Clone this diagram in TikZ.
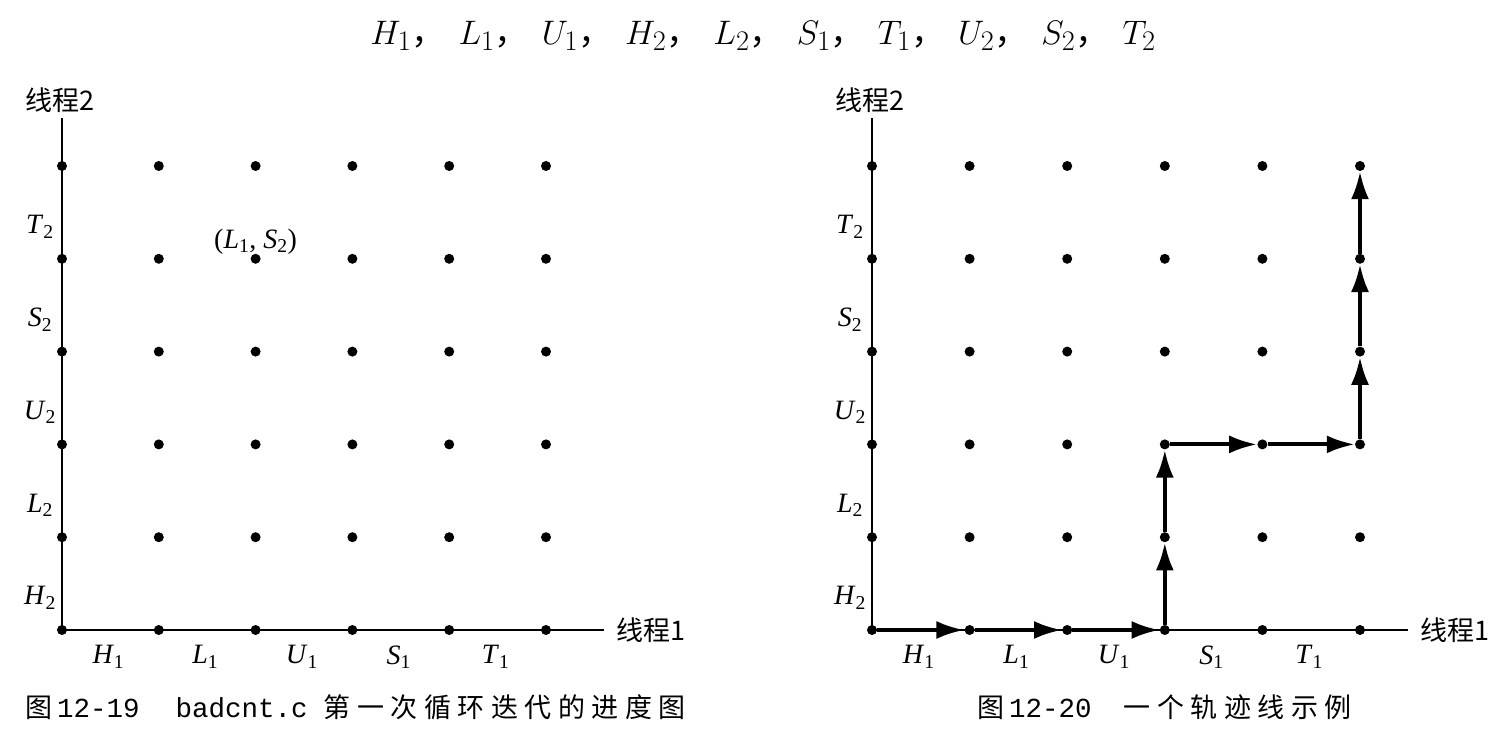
\documentclass[tikz,border=0pt]{standalone}
\usepackage{fontspec}
\setmainfont{Liberation Serif}
\setmonofont{Liberation Mono}
\newfontfamily\cjk{Noto Sans CJK SC}
\newfontfamily\cjkcap[LetterSpace=24]{Noto Sans CJK SC}
\usetikzlibrary{arrows.meta, positioning}

\newcommand{\sym}[2]{\textit{#1}\textsubscript{#2}}
\newcommand{\tcomma}{{\cjk ，}\hspace{9.5pt}}

\tikzset{
  dot/.style={circle, fill, inner sep=0pt, minimum size=10pt},
  axis/.style={line width=2.4pt},
  track/.style={line width=4pt, -{Latex[length=28pt,width=18pt]}},
  lab/.style={font=\fontsize{28}{30}\selectfont},
  cjklab/.style={font=\fontsize{27}{30}\selectfont\cjk, inner sep=0pt},
  caption/.style={font=\fontsize{27}{30}\selectfont\cjkcap, inner sep=0pt, anchor=west},
}

\begin{document}
\begin{tikzpicture}[x=1pt, y=-1pt]
\useasboundingbox (0,0) rectangle (1510,738);

% title line
\node[font=\fontsize{24.88}{28}\selectfont, scale=1.367, inner sep=0pt, anchor=west] (title) at (370,36)
  {$H_1$\tcomma$L_1$\tcomma$U_1$\tcomma$H_2$\tcomma$L_2$\tcomma$S_1$\tcomma$T_1$\tcomma$U_2$\tcomma$S_2$\tcomma$T_2$};

% both progress graphs
\foreach \c/\ox/\dx/\xl in {L/62/96.8/58, R/872/97.6/48} {
  \foreach \i in {0,...,5}
    \foreach \j in {0,...,5}
      \node[dot] (\c-\i-\j) at (\ox+\i*\dx, 630-\j*92.8) {};
  \coordinate (\c-xend) at (\ox+5*\dx+\xl, 630);
  \coordinate (\c-yend) at (\ox, 118);
  \draw[axis] (\c-0-0.center) -- (\c-xend);
  \draw[axis] (\c-0-0.center) -- (\c-yend);
  \node[cjklab, right=12pt of \c-xend] {线程1};
  \node[cjklab, anchor=west] at (\ox-37, 100) {线程2};
  \foreach \n [count=\k from 0] in {H,L,U,S,T} {
    \node[lab] at (\ox+\k*\dx+\dx/2-2, 657) {\sym{\n}{1}};
    \node[lab] at (\ox-22, 630-\k*92.8-32) {\sym{\n}{2}};
  }
}

\node[lab, above=-4pt of L-2-4] (pt) {(\sym{L}{1}, \sym{S}{2})};

% trajectory
\foreach \a/\b in {0-0/1-0, 1-0/2-0, 2-0/3-0, 3-0/3-1, 3-1/3-2,
                   3-2/4-2, 4-2/5-2, 5-2/5-3, 5-3/5-4, 5-4/5-5}
  \draw[track] (R-\a) -- (R-\b);

% captions
\node[caption] (capL) at (25,707)
  {图\hspace{5pt}{\fontsize{27.5}{30}\ttfamily 12-19\hspace{36pt}badcnt.c}\hspace{16pt}第一次循环迭代的进度图};
\node[caption] (capR) at (977,707)
  {图\hspace{5pt}{\fontsize{27.5}{30}\ttfamily 12-20}\hspace{32pt}一个轨迹线示例};
\end{tikzpicture}
\end{document}
